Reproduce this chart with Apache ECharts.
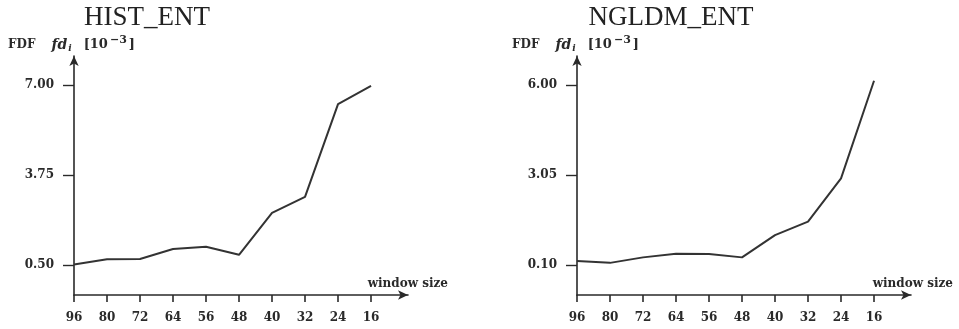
<!DOCTYPE html>
<html>
<head>
<meta charset="utf-8">
<style>
  html, body { margin: 0; padding: 0; background: #fff; }
  #chart { width: 959px; height: 329px; }
</style>
<script src="https://cdn.jsdelivr.net/npm/echarts@6/dist/echarts.min.js"></script>
</head>
<body>
<div id="chart"></div>
<script>
// Window sizes on the horizontal axis, largest to smallest
const windowSizes = ['96', '80', '72', '64', '56', '48', '40', '32', '24', '16'];

// FDF values fd_i, in units of 10^-3
const histEnt = [0.52, 0.71, 0.72, 1.08, 1.16, 0.87, 2.38, 2.96, 6.31, 6.97];
const ngldmEnt = [0.23, 0.17, 0.35, 0.47, 0.46, 0.35, 1.08, 1.52, 2.94, 6.14];

// Labelled ticks on each vertical axis
const histTicks = [0.50, 3.75, 7.00];
const ngldmTicks = [0.10, 3.05, 6.00];

const titles = ['HIST_ENT', 'NGLDM_ENT'];

const ink = '#2a2a2a';
const labelFont = 'DejaVu Serif';

const positions = windowSizes.map((_, i) => i);

function xAxisFor(gridIndex) {
  return {
    type: 'value',
    gridIndex: gridIndex,
    min: 0,
    max: 10.12,
    splitLine: { show: false },
    axisLine: {
      onZero: false,
      lineStyle: { color: ink, width: 1.6 },
      symbol: ['none', 'arrow'],
      symbolSize: [7, 10]
    },
    axisTick: { customValues: positions, length: 7, lineStyle: { color: ink, width: 1.6 } },
    axisLabel: {
      customValues: positions,
      formatter: v => windowSizes[Math.round(v)],
      margin: 17,
      color: ink,
      fontFamily: labelFont,
      fontWeight: 'bold',
      fontSize: 12
    }
  };
}

function yAxisFor(gridIndex, min, max, ticks) {
  return {
    type: 'value',
    gridIndex: gridIndex,
    min: min,
    max: max,
    splitLine: { show: false },
    axisLine: {
      onZero: false,
      lineStyle: { color: ink, width: 1.6 },
      symbol: ['none', 'arrow'],
      symbolSize: [7, 10]
    },
    axisTick: { customValues: ticks, length: 11, lineStyle: { color: ink, width: 1.4 } },
    axisLabel: {
      customValues: ticks,
      formatter: v => v.toFixed(2),
      margin: 20,
      color: ink,
      fontFamily: labelFont,
      fontWeight: 'bold',
      fontSize: 12
    }
  };
}

// Axis quantity label: FDF fd_i [10^-3]
const yRich = {
  b: { fontFamily: labelFont, fontWeight: 'bold', fontSize: 12, fill: ink },
  it: { fontFamily: labelFont, fontStyle: 'italic', fontWeight: 'bold', fontSize: 14, fill: ink, padding: [0, 0, 0, 16] },
  sub: { fontFamily: labelFont, fontStyle: 'italic', fontWeight: 'bold', fontSize: 9, fill: ink, padding: [7, 0, 0, 1] },
  br: { fontFamily: labelFont, fontWeight: 'bold', fontSize: 13, fill: ink, padding: [0, 0, 0, 12] },
  sup: { fontFamily: labelFont, fontWeight: 'bold', fontSize: 11, fill: ink, padding: [0, 2, 9, 2] },
  end: { fontFamily: labelFont, fontWeight: 'bold', fontSize: 13, fill: ink }
};
const yNameText = '{b|FDF}{it|fd}{sub|i}{br|[10}{sup|−3}{end|]}';

function axisTexts(xLeft, xRight, titleCenter, title) {
  return [
    {
      type: 'text', x: titleCenter, y: 4,
      style: { text: title, font: '27px "Liberation Serif"', fill: '#222', align: 'center', verticalAlign: 'top' }
    },
    {
      type: 'text', x: xLeft, y: 45,
      style: { text: yNameText, rich: yRich, align: 'left', verticalAlign: 'middle' }
    },
    {
      type: 'text', x: xRight, y: 284,
      style: { text: 'window size', font: 'bold 12px "DejaVu Serif"', fill: ink, align: 'right', verticalAlign: 'middle' }
    }
  ];
}

const chart = echarts.init(document.getElementById('chart'), null, { renderer: 'canvas' });

chart.setOption({
  backgroundColor: '#fff',
  animation: false,
  grid: [
    { left: 74, top: 56, width: 334, height: 239 },
    { left: 577, top: 56, width: 334, height: 239 }
  ],
  xAxis: [xAxisFor(0), xAxisFor(1)],
  yAxis: [
    yAxisFor(0, -0.583, 8.048, histTicks),
    yAxisFor(1, -0.883, 6.95, ngldmTicks)
  ],
  graphic: [
    ...axisTexts(8, 448, 147, titles[0]),
    ...axisTexts(512, 953, 671, titles[1])
  ],
  series: [
    {
      type: 'line', xAxisIndex: 0, yAxisIndex: 0, symbol: 'none',
      lineStyle: { color: '#333', width: 2 },
      data: positions.map(i => [i, histEnt[i]])
    },
    {
      type: 'line', xAxisIndex: 1, yAxisIndex: 1, symbol: 'none',
      lineStyle: { color: '#333', width: 2 },
      data: positions.map(i => [i, ngldmEnt[i]])
    }
  ]
});
</script>
</body>
</html>
